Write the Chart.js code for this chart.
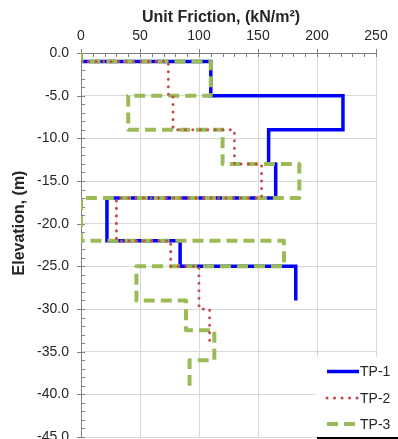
<!DOCTYPE html>
<html>
<head>
<meta charset="utf-8">
<script src="https://cdn.jsdelivr.net/npm/chart.js@4.4.1/dist/chart.umd.min.js"></script>
<style>
  html, body { margin: 0; padding: 0; background: #fff; overflow: hidden; }
  #wrap { width: 398px; height: 439px; overflow: hidden; }
  canvas { display: block; }
</style>
</head>
<body>
<div id="wrap"><canvas id="c" width="398" height="470"></canvas></div>
<script>
// Unit friction profiles (kN/m²) against elevation (m), drawn as step lines
const seriesNames = ['TP-1', 'TP-2', 'TP-3'];

const tp1Friction  = [0, 110, 110, 222, 222, 159, 159, 165, 165, 22, 22, 84, 84, 182, 182];
const tp1Elevation = [-1, -1, -5, -5, -9, -9, -13, -13, -17, -17, -22, -22, -25, -25, -29];

const tp2Friction  = [0, 74, 74, 78, 78, 130, 130, 153, 153, 30, 30, 76, 76, 100, 100, 109, 109];
const tp2Elevation = [-1, -1, -5, -5, -9, -9, -13, -13, -17, -17, -22, -22, -25, -25, -30, -30, -34];

const tp3Friction  = [0, 0, 110, 110, 40, 40, 120, 120, 185, 185, 0, 0, 172, 172, 47, 47, 89, 89, 113, 113, 92, 92];
const tp3Elevation = [0, -1, -1, -5, -5, -9, -9, -13, -13, -17, -17, -22, -22, -25, -25, -29, -29, -32.5, -32.5, -36, -36, -39];

// Axis ranges and tick spacing
const xMin = 0, xMax = 250, xMajorStep = 50, xMinorStep = 10;
const yMin = -45, yMax = 0, yMajorStep = 5, yMinorStep = 1;

const xTitle = 'Unit Friction, (kN/m²)';
const yTitle = 'Elevation, (m)';

const toPoints = (xs, ys) => xs.map((v, i) => ({ x: v, y: ys[i] }));

const FONT = '"Liberation Sans", Arial, sans-serif';
const TEXT = '#262626';
const AXIS = '#808080';
const GRID = '#d9d9d9';

// Minor/major tick marks on the two axes
const axisTicks = {
  id: 'axisTicks',
  beforeDatasetsDraw(chart) {
    const { ctx, chartArea: a, scales: { x, y } } = chart;
    ctx.save();
    ctx.strokeStyle = AXIS;
    ctx.lineWidth = 1;
    ctx.beginPath();
    for (let v = xMin; v <= xMax; v += xMinorStep) {
      const px = Math.round(x.getPixelForValue(v)) + 0.5;
      const major = v % xMajorStep === 0;
      ctx.moveTo(px, a.top - (major ? 4 : 0));
      ctx.lineTo(px, a.top + 4);
    }
    for (let v = yMax; v >= yMin; v -= yMinorStep) {
      const py = Math.round(y.getPixelForValue(v)) + 0.5;
      const major = v % yMajorStep === 0;
      ctx.moveTo(a.left - (major ? 4 : 0), py);
      ctx.lineTo(a.left + 4, py);
    }
    ctx.stroke();
    ctx.restore();
  }
};

// Axis titles
const axisTitles = {
  id: 'axisTitles',
  afterDraw(chart) {
    const { ctx } = chart;
    ctx.save();
    ctx.fillStyle = TEXT;
    ctx.font = 'bold 16px ' + FONT;
    ctx.textAlign = 'center';
    ctx.textBaseline = 'middle';
    ctx.fillText(xTitle, 221, 18);
    ctx.translate(20, 223);
    ctx.rotate(-Math.PI / 2);
    ctx.fillText(yTitle, 0, 0);
    ctx.restore();
  }
};

// Legend box in the lower right corner
const cornerLegend = {
  id: 'cornerLegend',
  afterDraw(chart) {
    const { ctx } = chart;
    const left = 316, top = 357, right = 398, bottom = 437;
    ctx.save();
    ctx.fillStyle = '#ffffff';
    ctx.fillRect(left, top, right - left, bottom - top);
    ctx.fillStyle = '#000000';
    ctx.fillRect(left + 1, bottom, right - left, 3);
    const rows = [371.5, 398, 424];
    chart.data.datasets.forEach((ds, i) => {
      const yy = rows[i];
      ctx.save();
      ctx.strokeStyle = ds.borderColor;
      ctx.lineWidth = ds.borderWidth;
      ctx.lineCap = ds.borderCapStyle || 'butt';
      ctx.setLineDash(ds.borderDash || []);
      ctx.beginPath();
      ctx.moveTo(327, yy);
      ctx.lineTo(359, yy);
      ctx.stroke();
      ctx.restore();
      ctx.fillStyle = TEXT;
      ctx.font = '14px ' + FONT;
      ctx.textAlign = 'left';
      ctx.textBaseline = 'middle';
      ctx.fillText(ds.label, 360, yy + 1);
    });
    ctx.restore();
  }
};

new Chart(document.getElementById('c'), {
  type: 'scatter',
  data: {
    datasets: [
      {
        label: seriesNames[0],
        data: toPoints(tp1Friction, tp1Elevation),
        showLine: true,
        borderColor: '#0000ff',
        borderWidth: 3.5,
        borderJoinStyle: 'miter',
        pointRadius: 0,
        order: 2
      },
      {
        label: seriesNames[1],
        data: toPoints(tp2Friction, tp2Elevation),
        showLine: true,
        borderColor: '#c0504d',
        borderWidth: 3,
        borderDash: [0.1, 7.4],
        borderCapStyle: 'round',
        borderJoinStyle: 'round',
        pointRadius: 0,
        order: 0
      },
      {
        label: seriesNames[2],
        data: toPoints(tp3Friction, tp3Elevation),
        showLine: true,
        borderColor: '#9bbb59',
        borderWidth: 4,
        borderDash: [11, 6],
        borderCapStyle: 'butt',
        borderJoinStyle: 'round',
        pointRadius: 0,
        order: 1
      }
    ]
  },
  options: {
    responsive: false,
    devicePixelRatio: 1,
    animation: false,
    layout: { padding: { left: 0, top: 0, right: 22, bottom: 33 } },
    plugins: {
      legend: { display: false },
      tooltip: { enabled: false }
    },
    scales: {
      x: {
        type: 'linear',
        position: 'top',
        min: xMin,
        max: xMax,
        afterFit(s) { s.height = 53; },
        ticks: {
          stepSize: xMajorStep,
          padding: 8,
          color: TEXT,
          font: { family: FONT, size: 14 }
        },
        grid: { color: GRID, drawTicks: false },
        border: { display: true, color: AXIS, width: 1 }
      },
      y: {
        type: 'linear',
        position: 'left',
        min: yMin,
        max: yMax,
        afterFit(s) { s.width = 81; },
        ticks: {
          stepSize: yMajorStep,
          padding: 12,
          color: TEXT,
          font: { family: FONT, size: 14 },
          callback: (v) => Number(v).toFixed(1)
        },
        grid: { color: GRID, drawTicks: false },
        border: { display: true, color: AXIS, width: 1 }
      }
    }
  },
  plugins: [axisTicks, axisTitles, cornerLegend]
});
</script>
</body>
</html>
